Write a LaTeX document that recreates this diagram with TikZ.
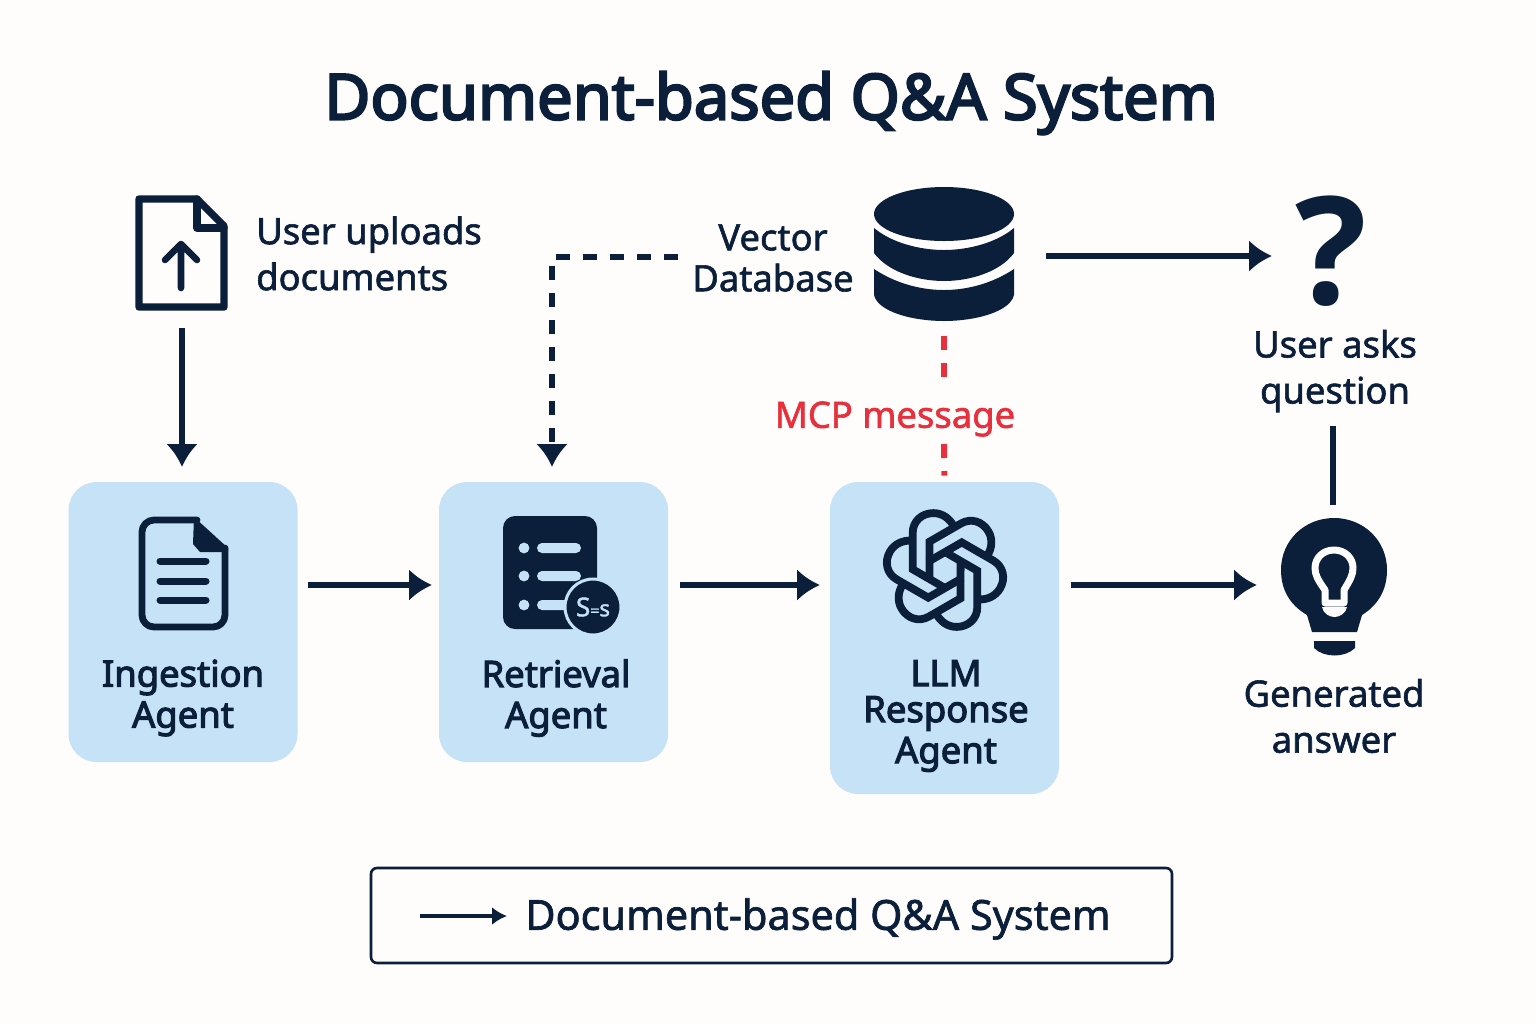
\documentclass[tikz,border=0pt]{standalone}
\usepackage{fontspec}
\setmainfont{Open Sans}
\newfontfamily\titlefont[FakeBold=3.6]{Noto Sans}
\newfontfamily\labelfont[FakeBold=3]{Noto Sans}
\newfontfamily\plainfont[FakeBold=1.6]{Noto Sans}
\usetikzlibrary{
        arrows.meta,
        positioning
    }
\definecolor{navy}{HTML}{0B1F3B}
\definecolor{agentblue}{HTML}{C5E2F6}
\definecolor{paper}{HTML}{FEFDFC}
\definecolor{msgred}{HTML}{E8303C}
\tikzset{>={Latex[length=11.5pt,width=16pt]},x=0.5pt,y=-0.5pt}
\tikzset{agent/.style={fill=agentblue,rounded corners=14pt,minimum width=114.5pt,inner sep=0pt}}
\tikzset{flow/.style={->,navy,line width=2.8pt}}
\tikzset{message/.style={msgred,line width=3pt,dash pattern=on 7pt off 6.5pt}}
\tikzset{agentname/.style={text=navy,align=center,font=\labelfont\fontsize{18.2}{20.5}\selectfont}}
\tikzset{caption/.style={text=navy,align=center,font=\plainfont\fontsize{18.2}{23}\selectfont}}
\tikzset{glyph/.style={draw=navy,line width=3.7pt,line join=round,line cap=round}}
\begin{document}
\begin{tikzpicture}
    \fill[paper] (0,0) rectangle (1536,1024);
    \useasboundingbox (0,0) rectangle (1536,1024);
    \node[text=navy,font=\titlefont\fontsize{31.6}{36}\selectfont] (title) at (771,103) {Document-based Q\&A System};

    % agents
    \node[agent,minimum height=140pt] (ingest) at (183,622) {};
    \node[agent,minimum height=140pt] (retrieval) at (553.5,622) {};
    \node[agent,minimum height=156pt] (llm) at (944.5,638) {};
    \node[agentname] (ingestname) at (183,698) {Ingestion\\Agent};
    \node[agentname] (retrievalname) at (556,698) {Retrieval\\Agent};
    \node[agentname] (llmname) at (946,716) {LLM\\[-2.5pt]Response\\Agent};

    % captions
    \node[caption,align=left] (uploads) at (369,253.5) {User uploads\\documents};
    \node[caption] (vector) at (773,258) {Vector\\[-2.5pt]Database};
    \node[caption] (asks) at (1335,371) {User asks\\question};
    \node[caption] (answer) at (1334,716) {Generated\\answer};

    % upload icon
    \draw[glyph] (197,199) -- (139,199) -- (139,307) -- (224,307) -- (224,226) -- cycle;
    \draw[glyph] (197,199) -- (197,228) -- (224,228);
    \draw[glyph,line width=3.3pt] (181,288) -- (181,244) (165,260) -- (181,244) -- (197,260);
    \coordinate (uploadout) at (182,328);

    % document icon
    \draw[glyph,line width=3.4pt,rounded corners=6pt] (197,520) -- (142,520) -- (142,627) -- (225,627) -- (225,548);
    \fill[navy] (194,517) -- (228,548) -- (228,552) -- (200,552) -- (193,544) -- cycle;
    \draw[glyph,line width=3.5pt] (160,561) -- (206,561) (160,581) -- (206,581) (160,600) -- (206,600);

    % list icon
    \fill[navy,rounded corners=6pt] (503,516) rectangle (597,629);
    \foreach \y in {548,576,605} {
        \fill[agentblue] (524,\y) circle (2.7pt);
        \fill[agentblue,rounded corners=2.5pt] (537,\y-5) rectangle (581,\y+5);
    }
    \node[circle,fill=navy,draw=agentblue,line width=1.5pt,minimum size=28pt,inner sep=0pt,text=agentblue,font=\plainfont\fontsize{13}{13}\selectfont] (equal) at (593,607) {S{\fontsize{8}{8}\selectfont=}{\fontsize{11}{11}\selectfont s}};

    % knot icon
    \foreach \a in {0,60,...,300} {
        \draw[navy,line width=3.9pt,rotate around={\a:(945,570)}]
            (953.7,526.3) .. controls (949.8,518.5) and (942.3,513.1) .. (933.4,513.1)
            .. controls (921.7,513.1) and (912.7,521.3) .. (912.7,532.9)
            -- (912.7,569.3) -- (946.7,589);
    }

    % database icon
    \fill[navy] (944,214) ellipse (35pt and 13.5pt);
    \fill[navy] (874,228) .. controls (892,243) and (920,250) .. (944,250) .. controls (968,250) and (996,243) .. (1014,228)
        -- (1014,253) .. controls (1000,272) and (970,281) .. (944,281) .. controls (918,281) and (888,272) .. (874,253) -- cycle;
    \fill[navy] (874,269) .. controls (895,283) and (920,290) .. (944,290) .. controls (968,290) and (993,283) .. (1014,269)
        -- (1014,295) .. controls (1010,312) and (975,321) .. (944,321) .. controls (913,321) and (878,312) .. (874,295) -- cycle;
    \coordinate (db) at (944,321);
    \coordinate (dbout) at (1046,256);
    \coordinate (dbin) at (1272,256);

    % question mark
    \node[text=navy,inner sep=0pt,font=\bfseries\fontsize{75}{75}\selectfont] (question) at (1331,251) {?};

    % bulb icon
    \fill[navy] (1307,615) .. controls (1290,605) and (1281,590) .. (1281,570) .. controls (1281,540) and (1305,518) .. (1334,518)
        .. controls (1363,518) and (1387,540) .. (1387,570) .. controls (1387,590) and (1378,605) .. (1362,615)
        -- (1357,632) -- (1312,632) -- cycle;
    \fill[navy] (1314,641) -- (1355,641) -- (1355,648) .. controls (1345,658) and (1324,658) .. (1314,648) -- cycle;
    \draw[paper,line width=3.5pt,line join=round] (1325,603) -- (1325,590) .. controls (1318,580) and (1315,575) .. (1315,568)
        .. controls (1315,558) and (1323,550) .. (1334,550) .. controls (1345,550) and (1353,558) .. (1353,568)
        .. controls (1353,575) and (1350,580) .. (1344,590) -- (1344,603) -- cycle;
    \fill[paper] (1322,607) -- (1347,607) .. controls (1346,613) and (1340,617) .. (1334.5,617) .. controls (1329,617) and (1323,613) .. (1322,607) -- cycle;

    % connectors
    \coordinate (ingestin) at (182,467);
    \coordinate (retrievalin) at (552,467);
    \coordinate (a1) at (308,585);
    \coordinate (b1) at (432,585);
    \coordinate (a2) at (680,585);
    \coordinate (b2) at (820,585);
    \coordinate (a3) at (1071,585);
    \coordinate (b3) at (1257,585);
    \coordinate (vectorout) at (678,257);
    \coordinate (asksout) at (1333,426);
    \coordinate (bulbin) at (1333,505);
    \path[flow]
        (uploadout) edge (ingestin)
        (dbout) edge (dbin)
        (a1) edge (b1)
        (a2) edge (b2)
        (a3) edge (b3)
    ;
    \draw[flow,dash pattern=on 7pt off 6.5pt] (vectorout) -| (retrievalin);
    \draw[navy,line width=2.8pt] (asksout) -- (bulbin);

    % red message
    \node[text=msgred,inner sep=2pt,font=\plainfont\fontsize{18.2}{22}\selectfont] (mcp) at (895,419) {MCP message};
    \coordinate (mcpup) at (944,378);
    \coordinate (mcpdown) at (944,444);
    \draw[message,shorten <=7.5pt] (db) -- (mcpup);
    \draw[message,shorten >=3pt] (mcpdown) -- (llm.north);

    % legend
    \node[draw=navy,line width=1.3pt,fill=none,rounded corners=3pt,minimum width=400.5pt,minimum height=47.5pt] (legend) at (771.5,915.5) {};
    \coordinate (legendout) at (420,916);
    \coordinate (legendin) at (507,916);
    \draw[->,draw=navy,line width=1.8pt,>={Latex[length=7.5pt,width=9pt]}] (legendout) -- (legendin);
    \node[text=navy,anchor=west,inner sep=0pt,font=\plainfont\fontsize{20.7}{24}\selectfont] (legendname) at (525,919) {Document-based Q\&A System};
\end{tikzpicture}
\end{document}
